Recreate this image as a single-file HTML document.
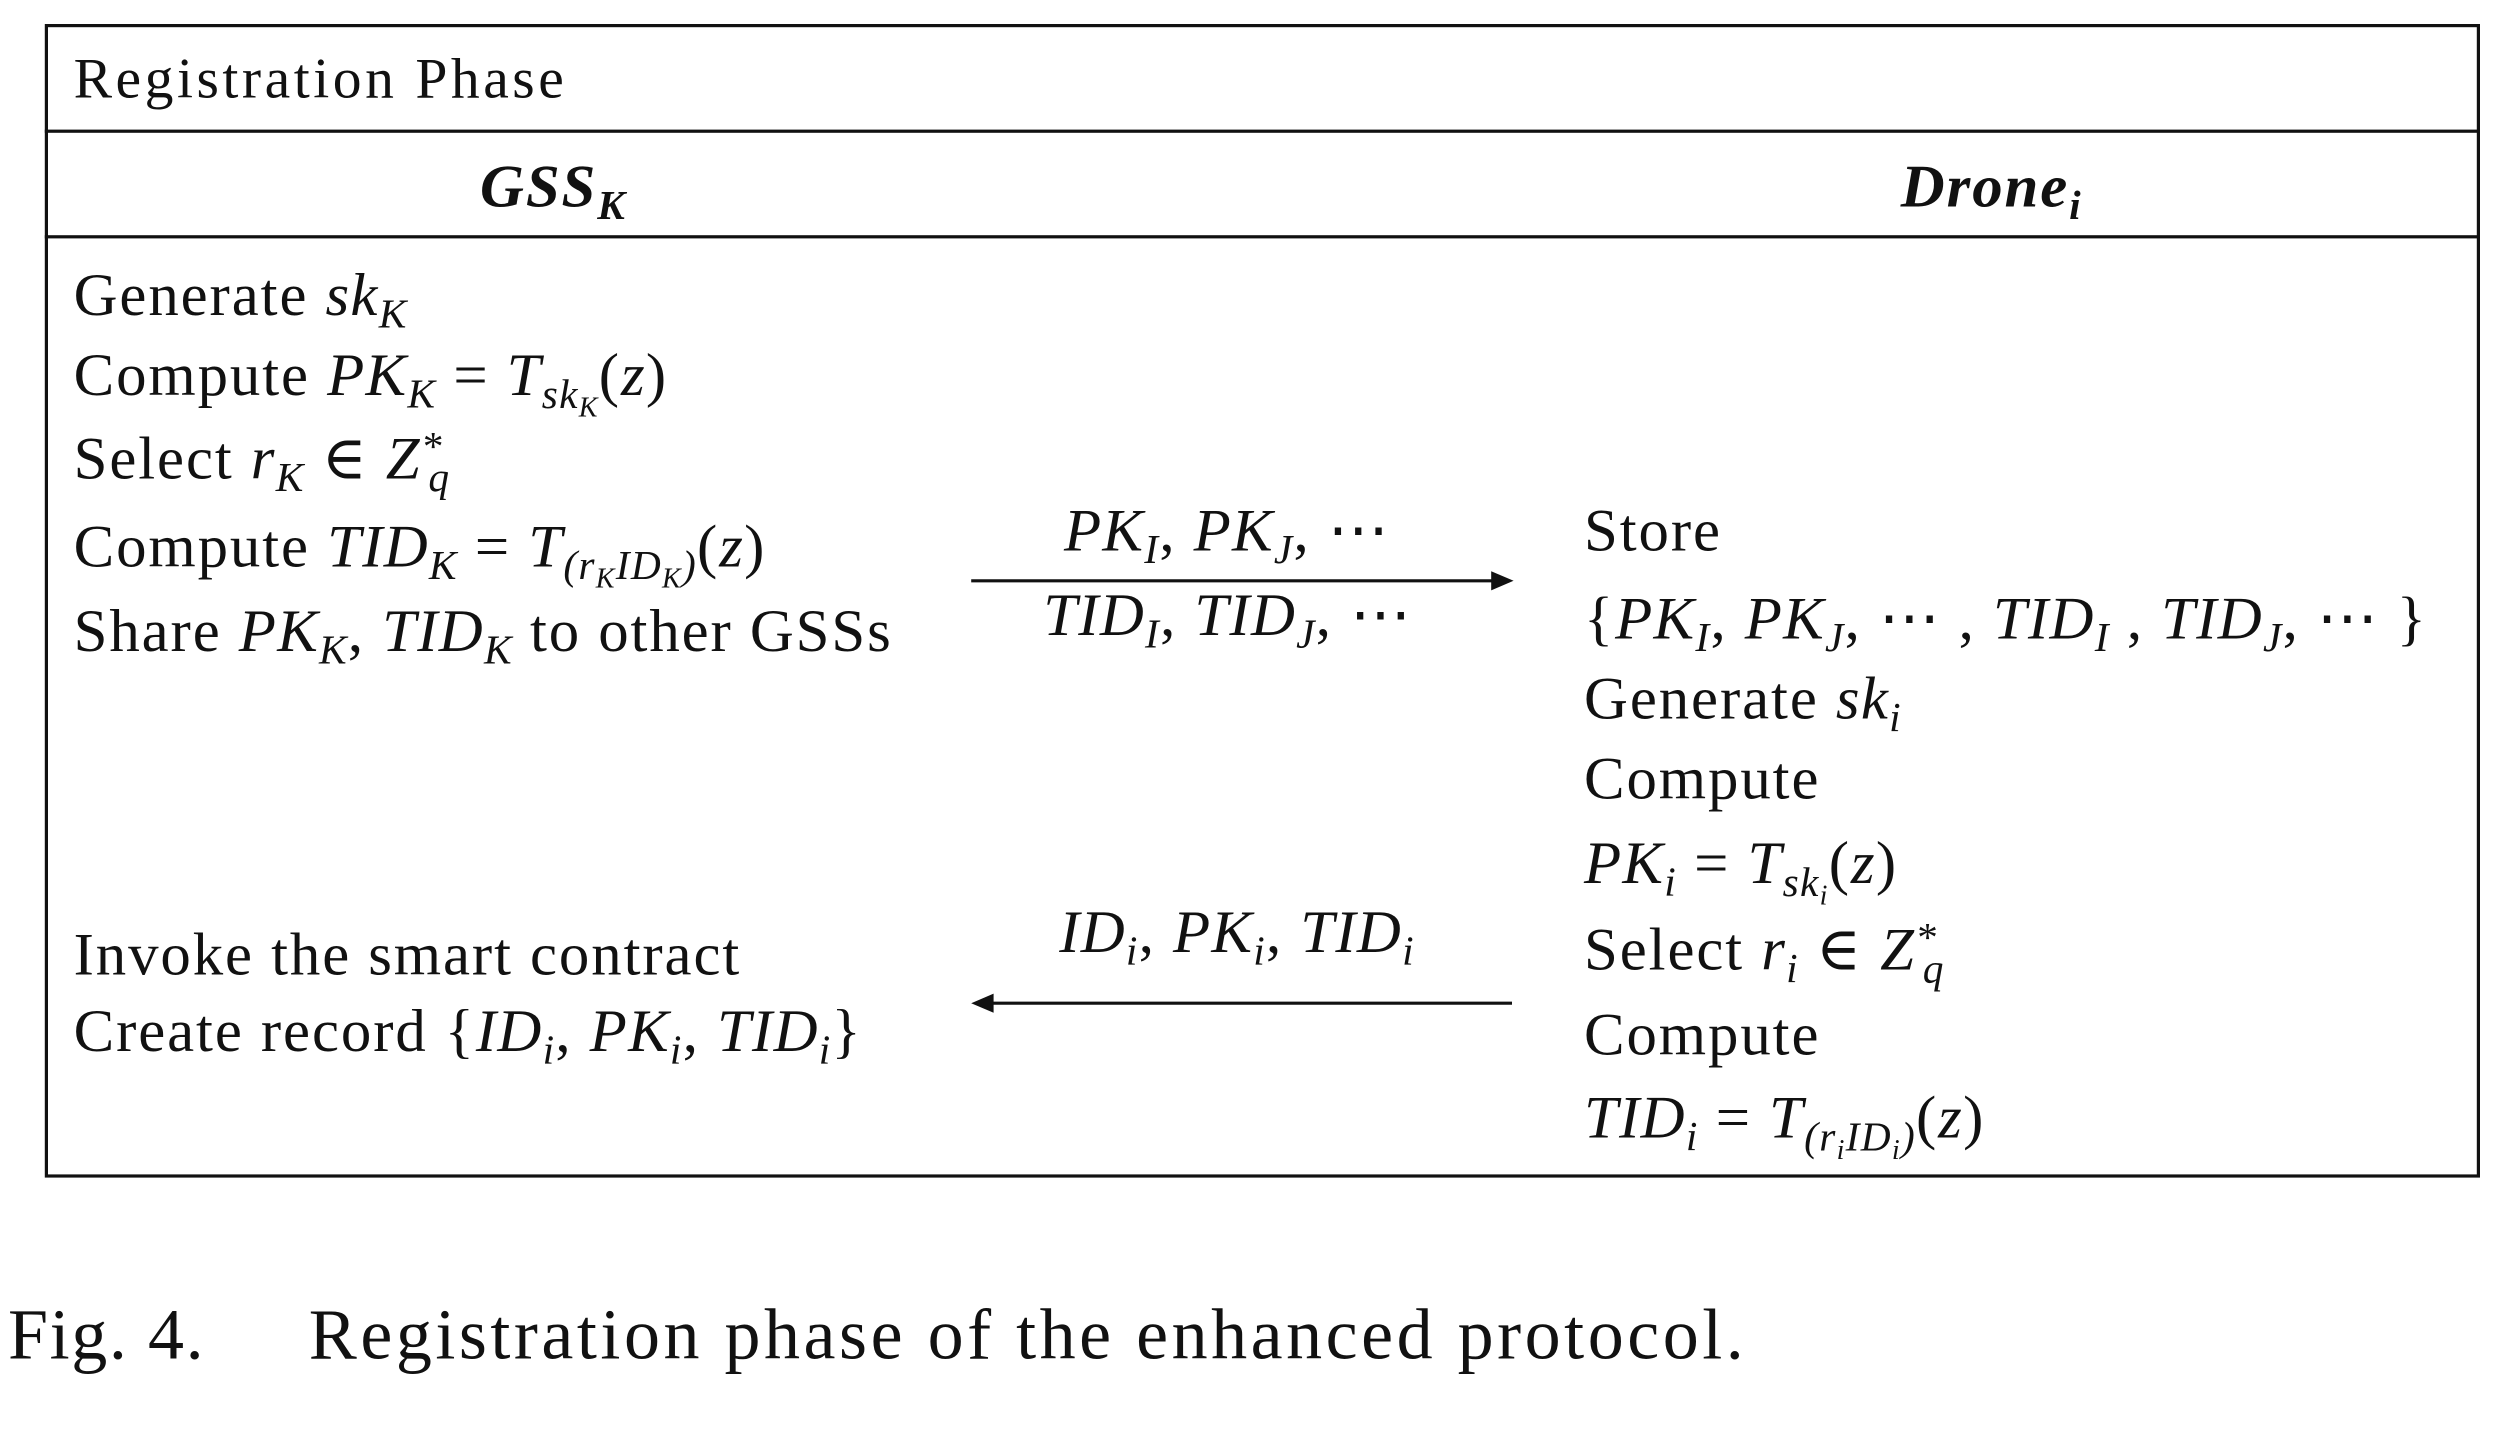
<!DOCTYPE html>
<html><head><meta charset="utf-8"><style>
html,body{margin:0;padding:0;background:#fff;width:2496px;height:1442px;overflow:hidden}
#wrap{position:absolute;left:0;top:0;width:1560px;height:901px;transform:scale(1.6);transform-origin:0 0;font-family:"Liberation Serif","DejaVu Serif",serif;color:#111}
.t{position:absolute;font-size:38px;line-height:1;white-space:nowrap;letter-spacing:1.2px}
i{font-style:italic;letter-spacing:0.8px}
sub{font-size:0.68em;vertical-align:-0.3em;line-height:0}
sup{font-size:0.68em;vertical-align:0.45em;line-height:0}
.ln{position:absolute;background:#111}
</style></head><body>
<div id="wrap">
<div style="position:absolute;left:28px;top:15px;width:1518px;height:717px;border:2px solid #111"></div>
<div class="ln" style="left:28px;top:81px;width:1522px;height:2px"></div>
<div class="ln" style="left:28px;top:147px;width:1522px;height:2px"></div>

<div class="t" style="left:46px;top:31px;font-size:36px;letter-spacing:2.2px">Registration Phase</div>
<div class="t" style="left:300px;top:98px;font-weight:bold;font-style:italic">GSS<sub>K</sub></div>
<div class="t" style="left:1188px;top:98px;font-weight:bold;font-style:italic">Drone<sub>i</sub></div>

<div class="t" style="left:46px;top:166px">Generate <i>sk<sub>K</sub></i></div>
<div class="t" style="left:46px;top:216px">Compute <i>PK<sub>K</sub></i> = <i>T<sub>sk<sub>K</sub></sub></i>(<i>z</i>)</div>
<div class="t" style="left:46px;top:268px">Select <i>r<sub>K</sub></i> ∈ <i>Z<sup>*</sup><sub style="margin-left:-0.35em">q</sub></i></div>
<div class="t" style="left:46px;top:323px">Compute <i>TID<sub>K</sub></i> = <i>T<sub>(r<sub>K</sub>ID<sub>K</sub>)</sub></i>(<i>z</i>)</div>
<div class="t" style="left:46px;top:376px">Share <i>PK<sub>K</sub></i>, <i>TID<sub>K</sub></i> to other GSSs</div>
<div class="t" style="left:46px;top:578px">Invoke the smart contract</div>
<div class="t" style="left:46px;top:626px">Create record {<i>ID<sub>i</sub></i>, <i>PK<sub>i</sub></i>, <i>TID<sub>i</sub></i>}</div>

<div class="t" style="left:665px;top:313px"><i>PK<sub>I</sub></i>, <i>PK<sub>J</sub></i>, ⋯</div>
<svg style="position:absolute;left:600px;top:350px" width="360" height="26"><line x1="7" y1="13" x2="335" y2="13" stroke="#111" stroke-width="2"/><polygon points="346,13 332,7 332,19" fill="#111"/></svg>
<div class="t" style="left:652px;top:366px"><i>TID<sub>I</sub></i>, <i>TID<sub>J</sub></i>, ⋯</div>

<div class="t" style="left:662px;top:564px"><i>ID<sub>i</sub></i>, <i>PK<sub>i</sub></i>, <i>TID<sub>i</sub></i></div>
<svg style="position:absolute;left:600px;top:614px" width="360" height="26"><line x1="18" y1="13" x2="345" y2="13" stroke="#111" stroke-width="2"/><polygon points="7,13 21,7 21,19" fill="#111"/></svg>

<div class="t" style="left:990px;top:313px">Store</div>
<div class="t" style="left:990px;top:368px">{<i>PK<sub>I</sub></i>, <i>PK<sub>J</sub></i>, ⋯ , <i>TID<sub>I</sub></i> , <i>TID<sub>J</sub></i>, ⋯ }</div>
<div class="t" style="left:990px;top:418px">Generate <i>sk<sub>i</sub></i></div>
<div class="t" style="left:990px;top:468px">Compute</div>
<div class="t" style="left:990px;top:521px"><i>PK<sub>i</sub></i> = <i>T<sub>sk<sub>i</sub></sub></i>(<i>z</i>)</div>
<div class="t" style="left:990px;top:575px">Select <i>r<sub>i</sub></i> ∈ <i>Z<sup>*</sup><sub style="margin-left:-0.35em">q</sub></i></div>
<div class="t" style="left:990px;top:628px">Compute</div>
<div class="t" style="left:990px;top:680px"><i>TID<sub>i</sub></i> = <i>T<sub>(r<sub>i</sub>ID<sub>i</sub>)</sub></i>(<i>z</i>)</div>

<div class="t" style="left:5px;top:812px;font-size:45px;letter-spacing:1px">Fig. 4.</div>
<div class="t" style="left:193px;top:812px;font-size:45px;letter-spacing:2.2px">Registration phase of the enhanced protocol.</div>
</div>
</body></html>
